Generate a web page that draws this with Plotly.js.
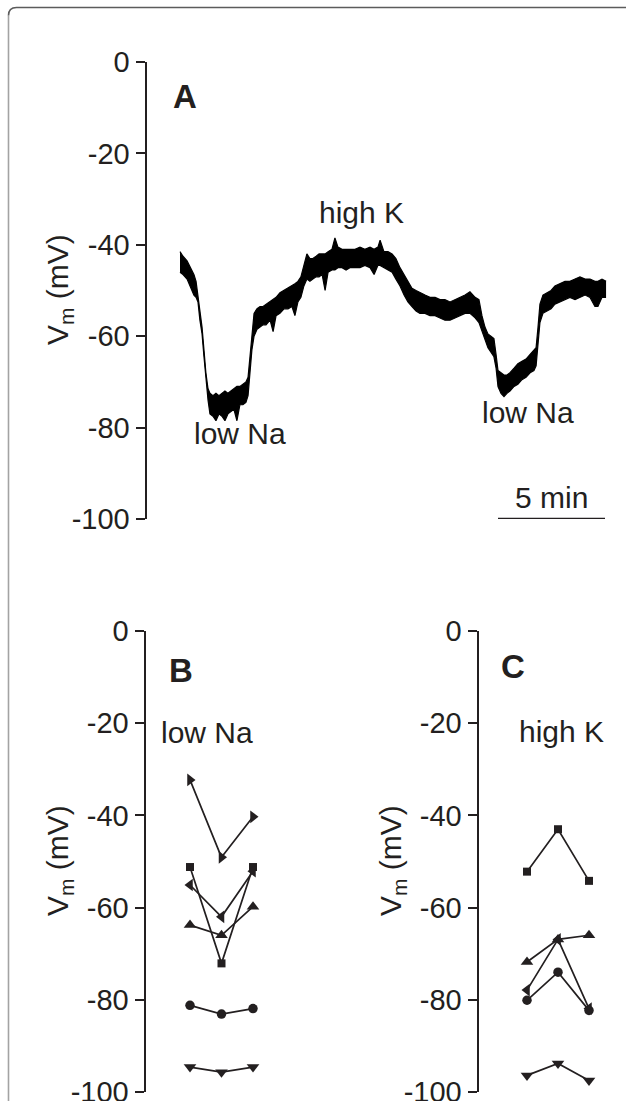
<!DOCTYPE html>
<html>
<head>
<meta charset="utf-8">
<script src="https://cdn.plot.ly/plotly-3.0.1.min.js"></script>
<style>
  html, body { margin: 0; padding: 0; background: #ffffff; }
  #chart { width: 626px; height: 1101px; }
</style>
</head>
<body>
<div id="chart"></div>
<script>
// ---------------- Panel A: membrane potential trace (envelope of noisy recording) ----------------
const minutes = [0.00,0.14,0.33,0.51,0.65,0.75,0.84,0.93,1.03,1.12,1.21,1.31,1.40,1.54,1.68,1.82,1.96,2.10,2.24,2.38,
  2.52,2.66,2.80,2.94,3.08,3.18,3.27,3.36,3.46,3.60,3.74,3.88,4.02,4.21,4.35,4.49,4.67,4.86,5.05,5.23,
  5.37,5.51,5.65,5.79,5.93,6.07,6.21,6.36,6.50,6.64,6.78,6.92,7.10,7.24,7.38,7.57,7.76,7.94,8.18,8.41,
  8.64,8.88,9.07,9.25,9.35,9.53,9.72,9.91,10.09,10.28,10.47,10.65,10.84,11.03,11.21,11.45,11.68,11.92,12.15,12.38,
  12.62,12.85,13.08,13.32,13.55,13.79,13.97,14.11,14.25,14.39,14.53,14.67,14.77,14.86,15.00,15.14,15.28,15.42,15.61,15.79,
  15.98,16.17,16.36,16.54,16.64,16.73,16.82,16.96,17.15,17.34,17.52,17.76,17.99,18.22,18.46,18.69,18.93,19.16,19.39,19.53,
  19.72,19.91];
const vmUpper = [-41.5,-42.5,-43.5,-45.0,-46.5,-48.0,-51.0,-54.5,-58.0,-63.0,-68.0,-71.5,-72.5,-73.0,-72.5,-73.0,-72.5,-72.0,-72.5,-72.0,
  -71.5,-71.0,-71.0,-70.5,-70.0,-69.0,-64.0,-59.0,-55.0,-54.0,-53.5,-53.5,-53.0,-52.5,-52.0,-51.5,-50.5,-50.0,-49.5,-49.0,
  -48.5,-48.0,-47.0,-44.5,-42.0,-43.0,-43.0,-42.5,-42.0,-42.0,-42.0,-41.5,-41.0,-38.5,-40.5,-41.0,-41.0,-41.0,-41.0,-40.5,
  -41.0,-40.5,-41.0,-40.5,-39.0,-41.5,-41.5,-42.0,-43.0,-45.0,-46.5,-48.0,-49.5,-50.0,-50.5,-51.0,-51.5,-51.5,-52.0,-52.0,
  -52.5,-52.0,-51.5,-51.0,-50.3,-51.5,-52.0,-55.5,-58.0,-59.5,-60.0,-60.5,-64.0,-67.5,-68.0,-68.5,-68.5,-68.0,-67.0,-66.0,
  -65.5,-65.0,-64.0,-63.0,-62.5,-58.0,-53.0,-51.0,-50.5,-50.0,-49.0,-48.5,-48.0,-48.0,-47.5,-47.0,-47.5,-47.5,-48.0,-48.0,
  -47.5,-48.0];
const vmLower = [-46.0,-46.5,-47.5,-49.5,-51.0,-51.5,-52.5,-56.5,-59.5,-64.5,-69.5,-74.0,-77.0,-77.5,-78.5,-77.0,-77.5,-78.5,-77.0,-76.5,
  -76.0,-78.5,-75.0,-75.0,-74.5,-73.0,-67.0,-63.0,-60.0,-58.5,-58.0,-57.5,-57.5,-56.5,-59.0,-55.5,-55.0,-54.0,-54.0,-53.5,
  -55.5,-52.5,-51.5,-49.0,-47.5,-48.0,-47.5,-47.0,-47.0,-46.5,-50.0,-46.0,-45.5,-45.5,-45.0,-45.0,-45.5,-45.0,-45.0,-45.0,
  -44.5,-45.0,-46.5,-44.5,-44.5,-45.0,-45.5,-46.0,-47.5,-49.0,-51.0,-52.5,-53.5,-54.5,-55.0,-55.0,-55.5,-55.5,-56.0,-56.5,
  -56.5,-56.0,-55.5,-55.0,-55.0,-56.0,-57.0,-59.0,-61.0,-62.5,-63.5,-64.5,-67.0,-71.0,-72.5,-73.2,-72.5,-72.0,-71.0,-70.5,
  -69.5,-69.0,-68.0,-67.5,-66.5,-62.0,-57.0,-55.0,-54.5,-54.0,-53.0,-52.5,-52.0,-51.5,-52.0,-51.5,-51.0,-51.5,-53.5,-53.5,
  -51.5,-51.5];
const scaleBarMinutes = 5;
const scaleBarEnd = 19.86;

// ---------------- Panels B and C: individual cells, control / test / wash ----------------
const conditionIndex = [1, 2, 3];
const cellSymbolsB = ['triangle-right', 'square', 'triangle-left', 'triangle-up', 'circle', 'triangle-down'];
const lowNa1 = [-32.3, -49.1, -40.3];
const lowNa2 = [-51.2, -72.1, -51.2];
const lowNa3 = [-55.1, -62.0, -52.1];
const lowNa4 = [-63.8, -66.0, -59.8];
const lowNa5 = [-81.2, -83.1, -81.9];
const lowNa6 = [-94.6, -95.7, -94.6];
const cellSymbolsC = ['square', 'triangle-up', 'triangle-left', 'circle', 'triangle-down'];
const highK1 = [-52.2, -43.0, -54.2];
const highK2 = [-71.8, -66.9, -66.0];
const highK3 = [-77.9, -66.9, -81.9];
const highK4 = [-80.1, -74.0, -82.3];
const highK5 = [-96.4, -93.8, -97.5];

// ---------------- Axis ticks ----------------
const tickVals = [0, -20, -40, -60, -80, -100];
const tickText = ['0', '-20', '-40', '-60', '-80', '-100'];

// ---------------- Build figure ----------------
const FONT = 'Liberation Sans, Arial, Helvetica, sans-serif';
const INK = '#231f20';
const W = 626, H = 1101;
const px = v => v / W;          // horizontal pixel -> paper
const py = v => 1 - v / H;      // vertical pixel (from top) -> paper

const traces = [];
traces.push({ x: minutes, y: vmLower, mode: 'lines', line: { color: '#000', width: 1.2 },
  xaxis: 'x', yaxis: 'y', hoverinfo: 'skip', showlegend: false });
traces.push({ x: minutes, y: vmUpper, mode: 'lines', line: { color: '#000', width: 1.2 },
  fill: 'tonexty', fillcolor: '#000', xaxis: 'x', yaxis: 'y', hoverinfo: 'skip', showlegend: false });

function markerSize(sym) {
  if (sym === 'square') return 8;
  if (sym === 'circle') return 9.5;
  return 11;
}
[lowNa1, lowNa2, lowNa3, lowNa4, lowNa5, lowNa6].forEach((vals, i) => {
  traces.push({ x: conditionIndex, y: vals, mode: 'lines+markers', xaxis: 'x2', yaxis: 'y2',
    line: { color: INK, width: 1.7 },
    marker: { symbol: cellSymbolsB[i], size: markerSize(cellSymbolsB[i]), color: INK },
    showlegend: false, hoverinfo: 'skip', cliponaxis: false });
});
[highK1, highK2, highK3, highK4, highK5].forEach((vals, i) => {
  traces.push({ x: conditionIndex, y: vals, mode: 'lines+markers', xaxis: 'x3', yaxis: 'y3',
    line: { color: INK, width: 1.7 },
    marker: { symbol: cellSymbolsC[i], size: markerSize(cellSymbolsC[i]), color: INK },
    showlegend: false, hoverinfo: 'skip', cliponaxis: false });
});

function yAxis(domain, anchor) {
  return {
    domain: domain, anchor: anchor, range: [-100, 0], autorange: false,
    tickmode: 'array', tickvals: tickVals, ticktext: tickText,
    ticks: 'outside', ticklen: 9, tickwidth: 2, tickcolor: INK,
    showline: true, linewidth: 2.5, linecolor: INK,
    showgrid: false, zeroline: false, fixedrange: true,
    ticklabeloverflow: 'allow',
    tickfont: { family: FONT, size: 29, color: INK }
  };
}
function xAxis(domain, range, anchor) {
  return { domain: domain, range: range, anchor: anchor, visible: false, showgrid: false,
    zeroline: false, fixedrange: true };
}

const yDomA = [py(519), py(62)];
const yDomBC = [py(1092), py(631)];

const annFont = { family: FONT, size: 30, color: INK };
const boldFont = { family: FONT, size: 33, color: INK, weight: 'bold' };
const base = { showarrow: false, xanchor: 'center', yanchor: 'middle' };

const annotations = [
  { ...base, text: '<b>A</b>', xref: 'x', yref: 'y', x: 0.23, y: -7.6, font: boldFont },
  { ...base, text: 'high K', xref: 'x', yref: 'y', x: 8.46, y: -33.0, font: annFont },
  { ...base, text: 'low Na', xref: 'x', yref: 'y', x: 2.80, y: -81.4, font: annFont },
  { ...base, text: 'low Na', xref: 'x', yref: 'y', x: 16.26, y: -76.6, font: annFont },
  { ...base, text: scaleBarMinutes + ' min', xref: 'x', yref: 'y', x: scaleBarEnd - scaleBarMinutes / 2, y: -95.3,
    font: annFont },
  { ...base, text: '<b>B</b>', xref: 'x2', yref: 'y2', x: 0.714, y: -8.5, font: boldFont },
  { ...base, text: 'low Na', xref: 'x2', yref: 'y2', x: 1.54, y: -22.1, font: annFont },
  { ...base, text: '<b>C</b>', xref: 'x3', yref: 'y3', x: 0.55, y: -7.8, font: boldFont },
  { ...base, text: 'high K', xref: 'x3', yref: 'y3', x: 2.10, y: -21.7, font: annFont },
  { ...base, text: 'V<sub>m</sub> (mV)', xref: 'paper', yref: 'paper', x: px(59), y: py(290), textangle: -90,
    font: annFont },
  { ...base, text: 'V<sub>m</sub> (mV)', xref: 'paper', yref: 'paper', x: px(59), y: py(861), textangle: -90,
    font: annFont },
  { ...base, text: 'V<sub>m</sub> (mV)', xref: 'paper', yref: 'paper', x: px(392), y: py(861), textangle: -90,
    font: annFont }
];

// frame: rounded corner top-left, running off the right and bottom edges
const fx = px(8.5), fy = py(7.5), rx = px(8), ry = 8 / H;
const shapes = [
  { type: 'path', xref: 'paper', yref: 'paper',
    path: `M ${fx},${py(1101 + 5)} L ${fx},${fy - ry}`, line: { color: '#a3a3a3', width: 1.6 } },
  { type: 'path', xref: 'paper', yref: 'paper',
    path: `M ${fx},${fy - ry} Q ${fx},${fy} ${fx + rx},${fy} L ${px(630)},${fy}`,
    line: { color: '#5c5c5c', width: 1.6 } },
  { type: 'line', xref: 'x', yref: 'y', x0: scaleBarEnd - scaleBarMinutes, x1: scaleBarEnd, y0: -100, y1: -100,
    line: { color: INK, width: 2.5 } }
];

const layout = {
  width: W, height: H,
  margin: { l: 0, r: 0, t: 0, b: 0, pad: 0 },
  paper_bgcolor: '#ffffff', plot_bgcolor: 'rgba(0,0,0,0)',
  showlegend: false,
  font: { family: FONT, color: INK },
  xaxis: xAxis([px(147), px(620)], [-1.542, 20.561], 'y'),
  yaxis: yAxis(yDomA, 'x'),
  xaxis2: xAxis([px(146), px(300)], [-0.3968, 4.492], 'y2'),
  yaxis2: yAxis(yDomBC, 'x2'),
  xaxis3: xAxis([px(479), 1], [-0.5484, 4.1935], 'y3'),
  yaxis3: yAxis(yDomBC, 'x3'),
  annotations: annotations,
  shapes: shapes
};

Plotly.newPlot('chart', traces, layout, { staticPlot: true, displayModeBar: false, responsive: false });
</script>
</body>
</html>
